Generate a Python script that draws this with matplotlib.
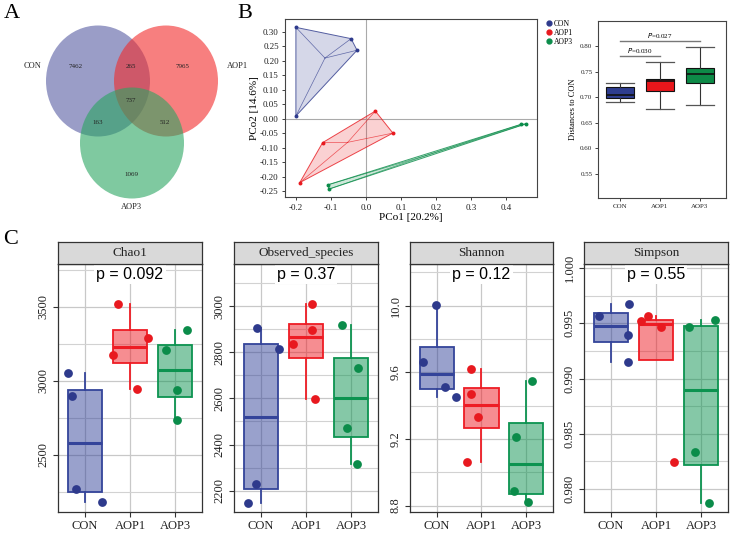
import numpy as np
import matplotlib
matplotlib.use('Agg')
import matplotlib.pyplot as plt
from matplotlib.patches import Ellipse, Polygon
from matplotlib.lines import Line2D
from matplotlib.colors import to_rgba

W, H = 731, 533
SERIF = ['Liberation Serif', 'DejaVu Serif']
SANS = ['Liberation Sans', 'DejaVu Sans']

# ---------------- data ----------------
groups = ['CON', 'AOP1', 'AOP3']

# Venn (A)
venn_sets = ['CON', 'AOP1', 'AOP3']
venn_regions = ['CON', 'CON&AOP1', 'AOP1', 'CON&AOP1&AOP3', 'CON&AOP3', 'AOP1&AOP3', 'AOP3']
venn_counts = [7462, 265, 7965, 737, 163, 512, 1069]

# PCoA (B)
pcoa_xlabel = 'PCo1 [20.2%]'
pcoa_ylabel = 'PCo2 [14.6%]'
con_pc1 = [-0.199, -0.042, -0.025, -0.199]
con_pc2 = [0.316, 0.277, 0.237, 0.010]
aop1_pc1 = [0.027, 0.077, -0.123, -0.188]
aop1_pc2 = [0.027, -0.049, -0.082, -0.220]
aop3_pc1 = [-0.109, -0.104, 0.441, 0.456]
aop3_pc2 = [-0.228, -0.242, -0.019, -0.017]

# Distances to CON (B right)
dist_whislo = [0.6914, 0.6771, 0.6856]
dist_q1 = [0.6980, 0.7120, 0.7285]
dist_med = [0.7045, 0.7310, 0.7455]
dist_q3 = [0.7195, 0.7350, 0.7564]
dist_whishi = [0.7285, 0.7687, 0.7987]
dist_p_labels = ['0.030', '0.027']

# Alpha diversity (C)
metrics = ['Chao1', 'Observed_species', 'Shannon', 'Simpson']
metric_p = ['0.092', '0.37', '0.12', '0.55']
chao1_con = [3055, 2897, 2269, 2180]
chao1_aop1 = [3523, 3175, 3287, 2949]
chao1_aop3 = [3207, 3341, 2940, 2736]
obs_con = [2903, 2814, 2228, 2149]
obs_aop1 = [3009, 2896, 2834, 2599]
obs_aop3 = [2916, 2730, 2470, 2315]
shannon_con = [10.006, 9.664, 9.512, 9.452]
shannon_aop1 = [9.618, 9.471, 9.333, 9.063]
shannon_aop3 = [9.550, 9.213, 8.887, 8.821]
simpson_con = [0.99563, 0.99675, 0.99394, 0.99147]
simpson_aop1 = [0.99521, 0.99566, 0.99469, 0.98246]
simpson_aop3 = [0.99464, 0.99527, 0.98334, 0.97875]

# horizontal jitter of the sample points (style)
jit_chao1 = [[-0.37, -0.28, -0.19, 0.37], [-0.26, -0.37, 0.40, 0.16], [-0.21, 0.26, 0.04, 0.04]]
jit_obs = [[-0.10, 0.41, -0.11, -0.28], [0.14, 0.14, -0.28, 0.21], [-0.19, 0.15, -0.10, 0.13]]
jit_shannon = [[-0.02, -0.32, 0.19, 0.42], [-0.24, -0.23, -0.08, -0.33], [0.13, -0.23, -0.28, 0.03]]
jit_simpson = [[-0.27, 0.39, 0.38, 0.37], [-0.33, -0.18, 0.12, 0.41], [-0.27, 0.30, -0.13, 0.17]]

# ---------------- styles ----------------
col_pt = ['#2e3a8c', '#e8191f', '#0b8c4a']
col_c = ['#34449a', '#ee1c24', '#0c9350']
col_bx = ['#2e3d8f', '#e8161b', '#0d8a47']
venn_cols = ['#575ca3', '#f22a2a', '#2aa561']


def rect(l, t, r, b):
    return [l / W, 1 - b / H, (r - l) / W, (b - t) / H]


fig = plt.figure(figsize=(W / 100, H / 100), dpi=100)

# overlay axes in pixel coords (Venn + panel letters)
ov = fig.add_axes([0, 0, 1, 1])
ov.set_xlim(0, W)
ov.set_ylim(H, 0)
ov.axis('off')
ov.set_zorder(-1)

venn_centers = [(98, 81), (166, 81), (132, 143)]
for (cx, cy), c in zip(venn_centers, venn_cols):
    ov.add_patch(Ellipse((cx, cy), 104, 111, facecolor=c, alpha=0.6, edgecolor='none'))
venn_set_pos = [(33, 66), (237, 66), (131, 207)]
for (x, y), s in zip(venn_set_pos, venn_sets):
    ov.text(x, y, s, fontsize=6, family=SERIF, ha='center', va='center', color='#222')
venn_count_pos = [(76, 67), (131, 67), (183, 67), (131, 101), (98, 122), (165, 122), (131, 174)]
for (x, y), n in zip(venn_count_pos, venn_counts):
    ov.text(x, y, str(n), fontsize=5, family=SERIF, ha='center', va='center', color='#222')

for (x, y), s in zip([(11.5, 13.5), (245, 13), (11, 240)], ['A', 'B', 'C']):
    ov.text(x, y, s, fontsize=16, family=SERIF, ha='center', va='center')

# ---------------- PCoA ----------------
ax = fig.add_axes(rect(285, 19.3, 537, 197.3))
ax.set_xlim(-0.230, 0.487)
ax.set_ylim(-0.2707, 0.3438)
ax.axhline(0, color='#aaaaaa', lw=0.8, zorder=0)
ax.axvline(0, color='#aaaaaa', lw=0.8, zorder=0)


def hull(xs, ys):
    pts = sorted(zip(xs, ys))

    def cross(o, a, b):
        return (a[0] - o[0]) * (b[1] - o[1]) - (a[1] - o[1]) * (b[0] - o[0])
    lower, upper = [], []
    for p in pts:
        while len(lower) >= 2 and cross(lower[-2], lower[-1], p) <= 0:
            lower.pop()
        lower.append(p)
    for p in reversed(pts):
        while len(upper) >= 2 and cross(upper[-2], upper[-1], p) <= 0:
            upper.pop()
        upper.append(p)
    return lower[:-1] + upper[:-1]


for xs, ys, c in zip([con_pc1, aop1_pc1, aop3_pc1], [con_pc2, aop1_pc2, aop3_pc2], col_pt):
    hp = hull(xs, ys)
    ax.add_patch(Polygon(hp, closed=True, facecolor=to_rgba(c, 0.2), edgecolor=to_rgba(c, 0.8), lw=0.7, zorder=1))
    mx, my = np.mean(xs), np.mean(ys)
    for x, y in zip(xs, ys):
        ax.plot([mx, x], [my, y], color=c, lw=0.5, alpha=0.7, zorder=2)
    ax.scatter(xs, ys, s=8, color=c, zorder=3, linewidths=0)

ax.set_xticks([-0.2, -0.1, 0.0, 0.1, 0.2, 0.3, 0.4])
ax.set_xticklabels(['-0.2', '-0.1', '0.0', '0.1', '0.2', '0.3', '0.4'])
yt = [-0.25, -0.20, -0.15, -0.10, -0.05, 0.0, 0.05, 0.10, 0.15, 0.20, 0.25, 0.30]
ax.set_yticks(yt)
ax.set_yticklabels(['%.2f' % v for v in yt])
for lab in ax.get_xticklabels() + ax.get_yticklabels():
    lab.set_family(SERIF)
ax.tick_params(labelsize=6.5, length=2.5, width=0.6, pad=2, colors='#222')
for s in ax.spines.values():
    s.set_color('#444')
    s.set_linewidth(0.8)
ax.set_xlabel(pcoa_xlabel, family=SERIF, fontsize=8, labelpad=1)
ax.set_ylabel(pcoa_ylabel, family=SERIF, fontsize=8, labelpad=1)

handles = [Line2D([], [], marker='o', ls='none', color=c, markersize=3.5) for c in col_pt]
fig.legend(handles, groups, loc='upper left', bbox_to_anchor=(542 / W, 1 - 15 / H), frameon=False,
           prop={'family': SERIF, 'size': 5.5}, handlelength=0.6, handletextpad=0.3,
           labelspacing=0.15, borderpad=0.1)

# ---------------- Distances to CON ----------------
bx = fig.add_axes(rect(598, 20.7, 726, 198.3))
stats = []
for i in range(3):
    stats.append(dict(med=dist_med[i], q1=dist_q1[i], q3=dist_q3[i], whislo=dist_whislo[i],
                      whishi=dist_whishi[i], fliers=[], label=groups[i]))
bp = bx.bxp(stats, positions=[1, 2, 3], widths=0.69, patch_artist=True, showfliers=False,
            capwidths=0.69,
            boxprops=dict(lw=0.8, edgecolor='#111'),
            medianprops=dict(color='#111', lw=1.2),
            whiskerprops=dict(color='#333', lw=0.8),
            capprops=dict(color='#555', lw=0.9))
for patch, c in zip(bp['boxes'], col_bx):
    patch.set_facecolor(c)
bx.set_xlim(0.45, 3.65)
bx.set_ylim(0.5025, 0.8494)
bt = [0.55, 0.60, 0.65, 0.70, 0.75, 0.80]
bx.set_yticks(bt)
bx.set_yticklabels(['%.2f' % v for v in bt])
bx.set_xticks([1, 2, 3])
bx.set_xticklabels(groups)
for lab in bx.get_xticklabels() + bx.get_yticklabels():
    lab.set_family(SERIF)
bx.tick_params(labelsize=5, length=2, width=0.6, pad=2, colors='#222')
for s in bx.spines.values():
    s.set_color('#444')
    s.set_linewidth(0.8)
bx.set_ylabel('Distances to CON', family=SERIF, fontsize=6, labelpad=2)
sig = [(1, 2, 0.7804, dist_p_labels[0]), (1, 3, 0.8098, dist_p_labels[1])]
for a, b, y, p in sig:
    bx.plot([a, b], [y, y], color='#777', lw=1.0)
    bx.text((a + b) / 2, y + 0.002, r'$\it{P}$=' + p, ha='center', va='bottom', fontsize=5, family=SERIF)

# ---------------- Alpha diversity ----------------
panel_x = [(58, 202), (234, 378), (410, 553), (584, 728)]
alpha_data = [[chao1_con, chao1_aop1, chao1_aop3],
              [obs_con, obs_aop1, obs_aop3],
              [shannon_con, shannon_aop1, shannon_aop3],
              [simpson_con, simpson_aop1, simpson_aop3]]
jitters = [jit_chao1, jit_obs, jit_shannon, jit_simpson]
ylims = [(2115, 3790), (2108, 3182), (8.761, 10.25), (0.97791, 1.00037)]
major = [[2500, 3000, 3500], [2200, 2400, 2600, 2800, 3000], [8.8, 9.2, 9.6, 10.0],
         [0.980, 0.985, 0.990, 0.995, 1.000]]
minor = [[2250, 2750, 3250, 3750], [2300, 2500, 2700, 2900, 3100], [9.0, 9.4, 9.8, 10.2],
         [0.9825, 0.9875, 0.9925, 0.9975]]
fmts = ['%d', '%d', '%.1f', '%.3f']

for k in range(4):
    l, r = panel_x[k]
    a = fig.add_axes(rect(l, 264, r, 512))
    a.set_axisbelow(True)
    vals = alpha_data[k]
    bp = a.boxplot(vals, positions=[1, 2, 3], widths=0.77, patch_artist=True, showfliers=False,
                   showcaps=False, whis=1.5, manage_ticks=False)
    for i in range(3):
        c = col_c[i]
        bp['boxes'][i].set_facecolor(to_rgba(c, 0.5))
        bp['boxes'][i].set_edgecolor(c)
        bp['boxes'][i].set_linewidth(1.3)
        bp['boxes'][i].set_zorder(2)
        bp['medians'][i].set_color(c)
        bp['medians'][i].set_linewidth(2.2)
        bp['medians'][i].set_zorder(2.5)
        for w in bp['whiskers'][2 * i:2 * i + 2]:
            w.set_color(c)
            w.set_linewidth(1.3)
            w.set_zorder(1.5)
        xs = [i + 1 + j for j in jitters[k][i]]
        a.scatter(xs, vals[i], s=40, color=col_pt[i], zorder=3, linewidths=0)
    a.set_xlim(0.4, 3.6)
    a.set_ylim(*ylims[k])
    a.set_yticks(major[k])
    a.set_yticklabels([fmts[k] % v for v in major[k]])
    a.set_yticks(minor[k], minor=True)
    a.set_xticks([1, 2, 3])
    a.set_xticklabels(groups)
    a.grid(True, which='major', color='#c8c8c8', lw=0.9)
    a.grid(True, which='minor', axis='y', color='#d2d2d2', lw=0.8)
    a.tick_params(which='minor', length=0)
    a.tick_params(which='major', length=3.5, width=0.8, colors='#333', labelsize=9, pad=2.5)
    a.tick_params(axis='y', labelrotation=90)
    for lab in a.get_xticklabels() + a.get_yticklabels():
        lab.set_family(SERIF)
        lab.set_color('#222')
    for lab in a.get_yticklabels():
        lab.set_va('center')
    for s in a.spines.values():
        s.set_color('#333')
        s.set_linewidth(0.9)
    a.text(2, ylims[k][1] - (ylims[k][1] - ylims[k][0]) * (10 / 248), 'p = ' + metric_p[k],
           ha='center', va='center', fontsize=11.5, family=SANS, zorder=4,
           bbox=dict(facecolor='white', edgecolor='none', pad=1.5))
    st = fig.add_axes(rect(l, 242, r, 264))
    st.set_facecolor('#d9d9d9')
    st.set_xticks([])
    st.set_yticks([])
    for s in st.spines.values():
        s.set_color('#333')
        s.set_linewidth(0.9)
    st.text(0.5, 0.5, metrics[k], transform=st.transAxes, ha='center', va='center',
            fontsize=9.5, family=SERIF, color='#222')

fig.savefig('out.png', dpi=100)
